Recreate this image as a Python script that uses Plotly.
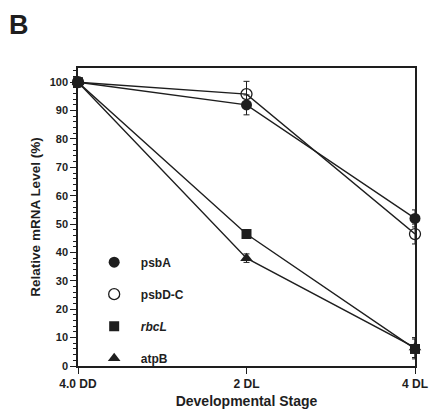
import plotly.graph_objects as go

stages = ["4.0 DD", "2 DL", "4 DL"]
stage_pos = [0, 1, 2]
psbA = [100, 92, 52]
psbA_err = [0, 3.5, 3]
psbDC = [100, 95.8, 46.5]
psbDC_err = [0, 4.5, 3.5]
rbcL = [100, 46.5, 6]
rbcL_err = [0, 1.5, 3.5]
atpB = [100, 38, 6.5]
atpB_err = [0, 1.5, 3.5]

FONT = "Liberation Sans, Arial, sans-serif"
LC = "#1e1e1e"

series = [
    ("psbA", psbA, psbA_err, dict(symbol="circle", size=11, color=LC)),
    ("psbD-C", psbDC, psbDC_err, dict(symbol="circle-open", size=11, color=LC, line=dict(width=1.3, color=LC))),
    ("<i>rbcL</i>", rbcL, rbcL_err, dict(symbol="square", size=10, color=LC)),
    ("atpB", atpB, atpB_err, dict(symbol="triangle-up", size=11, color=LC)),
]

fig = go.Figure()
for i, (name, vals, err, mk) in enumerate(series):
    fig.add_trace(go.Scatter(
        x=stage_pos, y=vals, mode="lines+markers", name=name,
        line=dict(color=LC, width=1.4), marker=mk,
        error_y=dict(type="data", array=err, visible=True, color=LC, thickness=1, width=3),
        showlegend=False, cliponaxis=False,
    ))
for i, (name, vals, err, mk) in enumerate(series):
    fig.add_trace(go.Scatter(
        x=[None], y=[None], mode="markers", name="\u00a0\u00a0" + name,
        marker=mk, showlegend=True, legendgroup="g%d" % i,
    ))

fig.update_layout(
    width=440, height=419,
    margin=dict(l=78, r=15, t=68, b=43),
    paper_bgcolor="white", plot_bgcolor="white",
    font=dict(family=FONT, color=LC),
    showlegend=True,
    legend=dict(x=0.048, y=0.397, xanchor="left", yanchor="top",
                font=dict(family=FONT, size=12, color=LC, weight="bold"),
                tracegroupgap=13, bgcolor="rgba(0,0,0,0)"),
    xaxis=dict(
        range=[0, 2], tickvals=stage_pos, ticktext=stages,
        showgrid=False, zeroline=False, showline=True, linecolor=LC, linewidth=1.5,
        mirror=True, ticks="outside", ticklen=6, tickwidth=1.2, tickcolor=LC,
        tickfont=dict(family=FONT, size=12, color=LC, weight="bold"),
        title=dict(text="Developmental Stage", standoff=6,
                   font=dict(family=FONT, size=14, color=LC, weight="bold")),
    ),
    yaxis=dict(
        range=[0, 105], tickvals=list(range(0, 101, 10)),
        showgrid=False, zeroline=False, showline=True, linecolor=LC, linewidth=1.5,
        mirror=True, ticks="outside", ticklen=6, tickwidth=1.2, tickcolor=LC,
        minor=dict(dtick=2, ticks="outside", ticklen=3, tickwidth=1, tickcolor=LC, showgrid=False),
        tickfont=dict(family=FONT, size=11, color=LC, weight="bold"),
        title=dict(text="Relative mRNA Level (%)", standoff=6,
                   font=dict(family=FONT, size=13.5, color=LC, weight="bold")),
    ),
    annotations=[dict(text="<b>B</b>", xref="paper", yref="paper", x=-0.21, y=1.2,
                      xanchor="left", yanchor="top", showarrow=False,
                      font=dict(family=FONT, size=27, color=LC))],
)

fig.write_html("out.html")
